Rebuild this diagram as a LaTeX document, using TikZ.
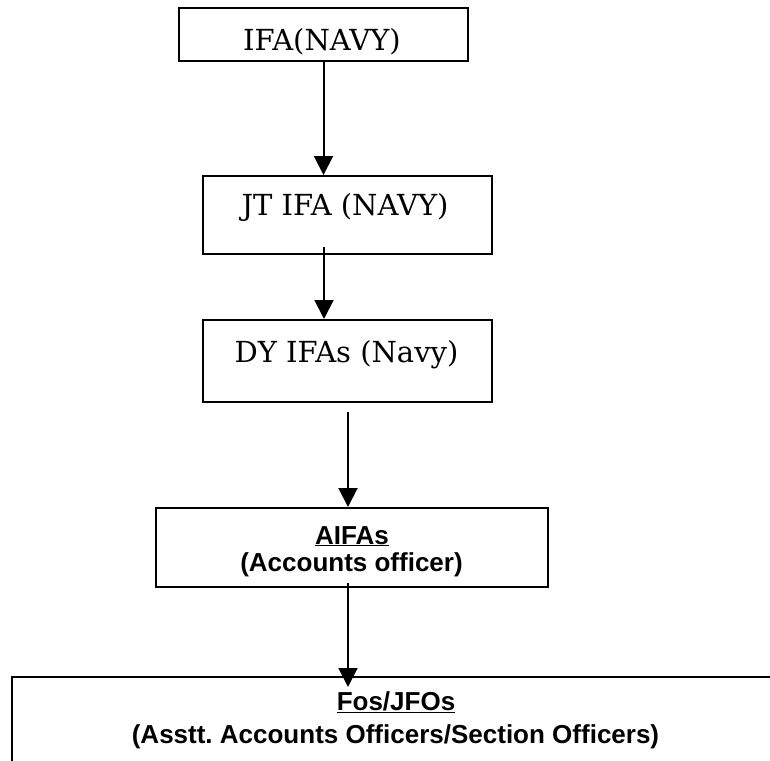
\documentclass[tikz,border=0pt]{standalone}
\usepackage{fontspec}
\setmainfont{DejaVu Serif}
\newfontfamily\hvfont{Liberation Sans}
\usetikzlibrary{arrows.meta}
\frenchspacing
\begin{document}
\begin{tikzpicture}[x=1pt,y=-1pt,
  box/.style={draw, line width=2pt, inner sep=0pt},
  arr/.style={line width=2pt, -{Triangle[width=19pt,length=19pt]}},
  serif/.style={font=\fontsize{29}{33}\selectfont, anchor=base, inner sep=0pt},
  sans/.style={font=\hvfont\bfseries\fontsize{26}{30}\selectfont, anchor=base, inner sep=0pt}]
\useasboundingbox (0,0) rectangle (770,760);
\clip (0,0) rectangle (770,760);
\fill[white] (0,0) rectangle (770,760);
% boxes
\node[box, minimum width=289pt, minimum height=53pt] (b1) at (323.5,34.5) {};
\node[box, minimum width=289pt, minimum height=78pt] (b2) at (347.5,215) {};
\node[box, minimum width=289pt, minimum height=82pt] (b3) at (347.5,361) {};
\node[box, minimum width=392pt, minimum height=79pt] (b4) at (352,547.5) {};
\node[box, minimum width=778pt, minimum height=160pt] (b5) at (401,757) {};
% texts
\node[serif] (t1) at (322,50) {IFA(NAVY)};
\node[serif] (t2) at (345,215) {JT IFA (NAVY)};
\node[serif] (t3) at (346.5,362) {DY IFAs (Navy)};
\node[sans] (t4a) at (352,544) {\underline{AIFAs}};
\node[sans] (t4b) at (351.5,571) {(Accounts officer)};
\node[sans] (t5a) at (396,710) {\underline{Fos/JFOs}};
\node[sans] (t5b) at (395.5,743) {(Asstt. Accounts Officers/Section Officers)};
% connectors
\coordinate (c2) at (324,247);
\coordinate (c3) at (348,412);
\coordinate (c4) at (348,583);
\coordinate (c5) at (348,687);
\draw[arr] (b1.south) -- (b1.south |- b2.north);
\draw[arr] (c2) -- (c2 |- b3.north);
\draw[arr] (c3) -- (c3 |- b4.north);
\draw[arr] (c4) -- (c5);
\end{tikzpicture}
\end{document}
